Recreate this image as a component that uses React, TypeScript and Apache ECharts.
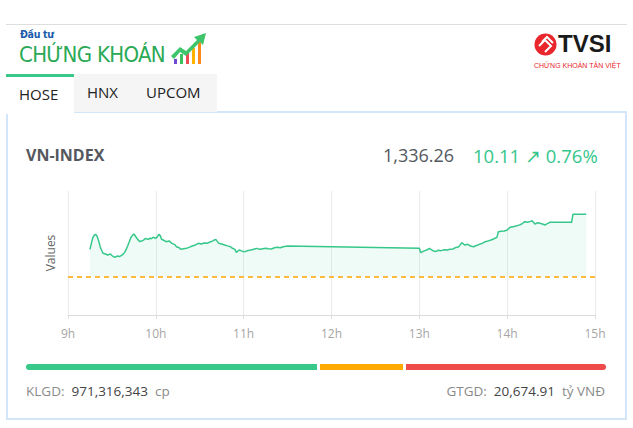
import React, { useEffect, useRef } from "react";
import * as echarts from "echarts";

const times: string[] = [
  "9:15", "9:16", "9:17", "9:18", "9:19", "9:20", "9:21", "9:22", "9:23", "9:24",
  "9:25", "9:26", "9:27", "9:28", "9:29", "9:30", "9:31", "9:32", "9:33", "9:34",
  "9:35", "9:36", "9:37", "9:38", "9:39", "9:40", "9:41", "9:42", "9:43", "9:44",
  "9:45", "9:46", "9:47", "9:48", "9:49", "9:50", "9:51", "9:52", "9:53", "9:54",
  "9:55", "9:56", "9:57", "9:58", "9:59", "10:00", "10:01", "10:02", "10:03", "10:04",
  "10:05", "10:07", "10:09", "10:11", "10:13", "10:14", "10:16", "10:17", "10:19", "10:21",
  "10:23", "10:25", "10:27", "10:29", "10:31", "10:33", "10:35", "10:37", "10:39", "10:40",
  "10:41", "10:43", "10:45", "10:47", "10:49", "10:51", "10:52", "10:54", "10:55", "10:57",
  "10:59", "11:01", "11:03", "11:05", "11:07", "11:09", "11:11", "11:13", "11:15", "11:17",
  "11:19", "11:21", "11:23", "11:25", "11:27", "11:30",
  "13:00", "13:01", "13:03", "13:05", "13:07", "13:09", "13:11", "13:13", "13:15", "13:17",
  "13:19", "13:21", "13:23", "13:25", "13:27", "13:29", "13:31", "13:33", "13:35", "13:37",
  "13:39", "13:41", "13:43", "13:45", "13:47", "13:49", "13:51", "13:53", "13:54", "13:56",
  "13:58", "14:00", "14:02", "14:04", "14:06", "14:08", "14:10", "14:12", "14:14", "14:16",
  "14:17", "14:19", "14:21", "14:23", "14:25", "14:26", "14:27", "14:28", "14:29", "14:44",
  "14:45", "14:54"
];

const values: number[] = [
  1330.59, 1331.6, 1332.5, 1332.9, 1333.01, 1332.63, 1331.9, 1331.02, 1330.4, 1329.95,
  1329.88, 1329.8, 1329.68, 1329.75, 1329.85, 1329.6, 1329.41, 1329.3, 1329.45, 1329.52,
  1329.42, 1329.55, 1329.68, 1329.9, 1330.22, 1330.7, 1331.29, 1331.9, 1332.5, 1332.85,
  1333.06, 1332.75, 1332.37, 1332.1, 1331.83, 1331.95, 1331.99, 1332.15, 1332.37, 1332.25,
  1332.2, 1332.4, 1332.3, 1332.53, 1332.45, 1332.37, 1332.6, 1333.01, 1332.8, 1332.2,
  1332.1, 1331.83, 1331.95, 1331.56, 1331.35, 1331.02, 1330.85, 1330.59, 1330.7, 1330.75,
  1330.95, 1331.13, 1331.3, 1331.56, 1331.45, 1331.6, 1331.56, 1331.77, 1331.95, 1332.1,
  1332.2, 1331.56, 1331.45, 1331.29, 1331.15, 1331.02, 1330.8, 1330.59, 1330.11, 1330.48,
  1330.3, 1330.22, 1330.4, 1330.48, 1330.62, 1330.75, 1330.59, 1330.7, 1330.75, 1330.68,
  1330.65, 1330.85, 1330.91, 1330.85, 1331.0, 1331.13,
  1330.75, 1330.05, 1330.3, 1330.48, 1330.75, 1330.4, 1330.22, 1330.45, 1330.38, 1330.52,
  1330.48, 1330.6, 1330.65, 1330.9, 1331.02, 1331.67, 1331.29, 1331.4, 1331.13, 1331.02,
  1331.2, 1331.4, 1331.55, 1331.83, 1331.95, 1332.1, 1332.3, 1332.53, 1333.44, 1333.5,
  1333.55, 1333.71, 1334.14, 1334.25, 1334.35, 1334.5, 1334.68, 1335.05, 1334.95, 1335.1,
  1335.22, 1334.68, 1334.89, 1334.75, 1334.6, 1334.52, 1334.7, 1334.78, 1334.95, 1334.95,
  1336.26, 1336.26
];

const referencePrice = 1326.15;
const hourTicks: number[] = [9, 10, 11, 12, 13, 14, 15];
const barShares: number[] = [291, 85, 198]; // green / orange / red widths as read

const toMinutes = (s: string) => {
  const [h, m] = s.split(":").map(Number);
  return h * 60 + m;
};

function Chart() {
  const ref = useRef<HTMLDivElement>(null);
  useEffect(() => {
    if (!ref.current) return;
    const chart = echarts.init(ref.current, null, { renderer: "svg" });
    const data = times.map((t, i) => [toMinutes(t), values[i]]);
    chart.setOption({
      animation: false,
      grid: { left: 68, right: 38, top: 11, bottom: 35 },
      xAxis: {
        type: "value",
        min: hourTicks[0] * 60,
        max: hourTicks[hourTicks.length - 1] * 60,
        interval: 60,
        axisLine: { show: true, lineStyle: { color: "#dcdcdc" } },
        axisTick: { show: true, length: 4, lineStyle: { color: "#dcdcdc" } },
        axisLabel: {
          color: "#a6a6a6",
          fontSize: 12,
          fontFamily: "Open Sans",
          margin: 12,
          formatter: (v: number) => `${v / 60}h`,
        },
        splitLine: { show: true, lineStyle: { color: "#ebebeb" } },
      },
      yAxis: {
        type: "value",
        min: 1320,
        max: 1340,
        axisLabel: { show: false },
        axisLine: { show: false },
        axisTick: { show: false },
        splitLine: { show: false },
        name: "Values",
        nameLocation: "middle",
        nameGap: 12,
        nameTextStyle: { color: "#666", fontSize: 12, fontFamily: "Open Sans" },
      },
      series: [
        {
          type: "line",
          data,
          showSymbol: false,
          lineStyle: { color: "#36c78a", width: 1.5 },
          itemStyle: { color: "#36c78a" },
          areaStyle: { color: "rgba(54,199,138,0.11)", origin: referencePrice },
          markLine: {
            silent: true,
            symbol: "none",
            label: { show: false },
            lineStyle: { color: "#ffa500", type: [5, 4], width: 1.5 },
            data: [{ yAxis: referencePrice }],
          },
        },
      ],
    });
    return () => chart.dispose();
  }, []);
  return (
    <div
      ref={ref}
      style={{ position: "absolute", left: 0, top: 180, width: 633, height: 170 }}
    />
  );
}

export default function App() {
  const total = barShares.reduce((a, b) => a + b, 0);
  const barW = 580;
  const abs = (s: React.CSSProperties): React.CSSProperties => ({ position: "absolute", ...s });
  return (
    <div
      style={{
        position: "fixed",
        left: 0,
        top: 0,
        width: 633,
        height: 428,
        background: "#fff",
        fontFamily: "'Open Sans', 'Noto Sans', sans-serif",
        overflow: "hidden",
      }}
    >
      {/* top rule */}
      <div style={abs({ left: 6, top: 24, width: 621, height: 1, background: "#dedede" })} />
      {/* logo */}
      <div style={abs({ left: 20, top: 29, fontSize: 10.5, lineHeight: "11px", fontWeight: 700, color: "#1b5cab", fontFamily: "'DejaVu Sans Condensed', 'Liberation Sans Narrow', sans-serif", letterSpacing: -0.3 })}>
        Đầu tư
      </div>
      <div
        style={abs({
          left: 19,
          top: 44,
          fontSize: 22,
          lineHeight: "22px",
          color: "#2aa956",
          fontFamily: "'DejaVu Sans Condensed', 'Liberation Sans Narrow', sans-serif",
          whiteSpace: "nowrap",
          transformOrigin: "left top",
          transform: "scaleX(1.0)",
          letterSpacing: -0.7,
        })}
      >
        CHỨNG KHOÁN
      </div>
      <svg style={abs({ left: 170, top: 32 })} width={40} height={33} viewBox="0 0 40 33">
        <rect x="4" y="27" width="3" height="5" fill="#6d4bd1" />
        <rect x="10" y="22" width="3" height="10" fill="#3cc160" />
        <rect x="16" y="20" width="3" height="12" fill="#ef4b57" />
        <rect x="22" y="16" width="3" height="16" fill="#ffb300" />
        <rect x="28" y="10" width="3" height="22" fill="#ff8a1a" />
        <polygon points="1,24 10,15 16,19 27,8 24,5 36,1 33,13 30,10 16,24 10,20 4,27" fill="#3ec56b" />
      </svg>
      {/* TVSI logo */}
      <svg style={abs({ left: 534, top: 33 })} width={24} height={23} viewBox="0 0 24 23">
        <circle cx="11.5" cy="11.5" r="11" fill="#e8262b" />
        <polyline points="5,13 11,7 17,13 11,19" fill="none" stroke="#fff" strokeWidth="2" />
        <polyline points="8,9 13,4 19,10" fill="none" stroke="#fff" strokeWidth="2" />
      </svg>
      <div style={abs({ left: 558, top: 31, fontSize: 24, lineHeight: "26px", fontWeight: 700, color: "#1a1a1a", fontFamily: "'Liberation Sans', Arial, sans-serif" })}>
        TVSI
      </div>
      <div style={abs({ left: 534, top: 61, fontSize: 7, lineHeight: "9px", color: "#e8262b", whiteSpace: "nowrap", fontFamily: "'Liberation Sans', Arial, sans-serif" })}>
        CHỨNG KHOÁN TÂN VIỆT
      </div>

      {/* card */}
      <div
        style={abs({
          left: 6,
          top: 111,
          width: 617,
          height: 305,
          border: "2px solid #d3e5f8",
          background: "#fff",
        })}
      />
      {/* tabs */}
      <div style={abs({ left: 74, top: 74, width: 143, height: 38, background: "#f5f5f5" })} />
      <div style={abs({ left: 6, top: 74, width: 68, height: 40, background: "#fff" })} />
      <div style={abs({ left: 6, top: 74, width: 68, height: 3, background: "#3cc88a" })} />
      <div style={abs({ left: 19, top: 84, fontSize: 15, color: "#222" })}>HOSE</div>
      <div style={abs({ left: 87, top: 82, fontSize: 15, color: "#222" })}>HNX</div>
      <div style={abs({ left: 146, top: 82, fontSize: 15, color: "#222" })}>UPCOM</div>

      {/* title row */}
      <div style={abs({ left: 26, top: 144, fontSize: 16, fontWeight: 700, color: "#54585e" })}>VN-INDEX</div>
      <div style={abs({ left: 383, top: 143, fontSize: 18, color: "#54585e", whiteSpace: "nowrap" })}>1,336.26</div>
      <div style={abs({ left: 473, top: 143, fontSize: 18.5, color: "#34c68a", whiteSpace: "nowrap" })}>10.11 ↗ 0.76%</div>

      <Chart />

      {/* bar */}
      {(() => {
        const colors = ["#38c88a", "#ffaa00", "#ef4b4b"];
        let x = 26;
        return barShares.map((s, i) => {
          const w = (s / total) * barW;
          const el = (
            <div
              key={i}
              style={abs({
                left: x,
                top: 364,
                width: w - (i < 2 ? 3 : 0),
                height: 6,
                background: colors[i],
                borderRadius: i === 0 ? "3px 0 0 3px" : i === 2 ? "0 3px 3px 0" : 0,
              })}
            />
          );
          x += w;
          return el;
        });
      })()}

      <div style={abs({ left: 26, top: 382, fontSize: 13.5, color: "#8a8a8a", whiteSpace: "nowrap" })}>
        KLGD:&nbsp; <span style={{ color: "#444" }}>971,316,343</span>&nbsp; cp
      </div>
      <div style={abs({ right: 28, top: 382, fontSize: 13.5, color: "#8a8a8a", whiteSpace: "nowrap" })}>
        GTGD:&nbsp; <span style={{ color: "#444" }}>20,674.91</span>&nbsp; tỷ VNĐ
      </div>
    </div>
  );
}
